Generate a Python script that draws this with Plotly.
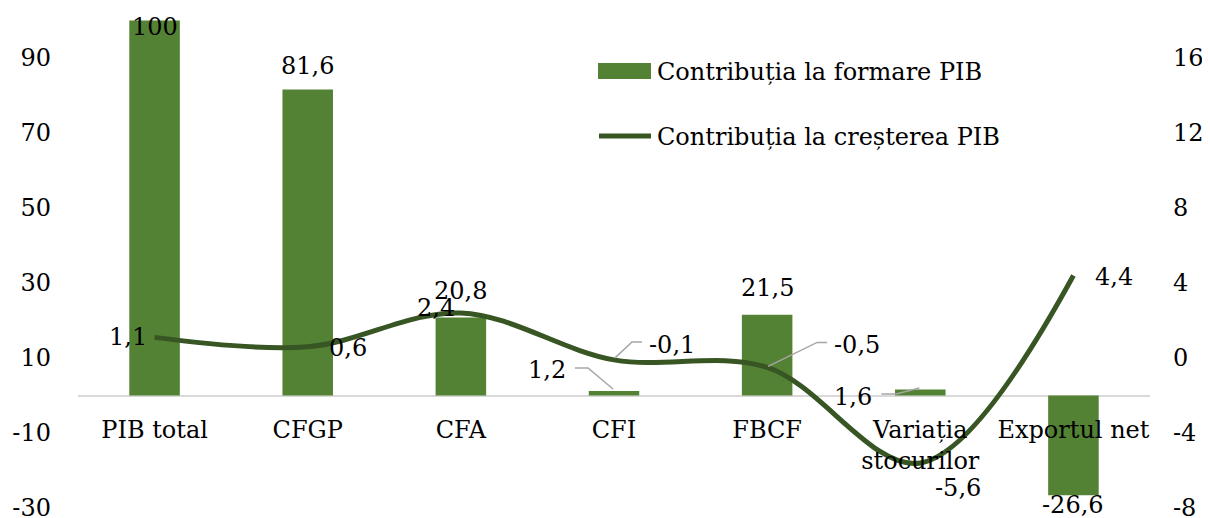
import plotly.graph_objects as go

# ---------------- data ----------------
categories = ["PIB total", "CFGP", "CFA", "CFI", "FBCF", "Variația<br>stocurilor", "Exportul net"]
formare = [100, 81.6, 20.8, 1.2, 21.5, 1.6, -26.6]          # left axis (bars)
crestere = [1.1, 0.6, 2.4, -0.1, -0.5, -5.6, 4.4]           # right axis (line)
left_ticks = [-30, -10, 10, 30, 50, 70, 90]
right_ticks = [-8, -4, 0, 4, 8, 12, 16]
series_names = ["Contribuția la formare PIB", "Contribuția la creșterea PIB"]

# ---------------- style ----------------
BODY = 8                      # default page body margin of the html page
VW, VH = 1210, 518            # browser viewport
W, H = VW - BODY, VH - BODY   # figure fits inside the viewport
PL, PR, PT, PB = 78, 1150, 10, 508   # plot area in page pixels
ML, MR, MT, MB = PL - BODY, VW - PR, PT - BODY, VH - PB
FONT = "DejaVu Serif"
FS = 24
BAR_COLOR = "#548235"
LINE_COLOR = "#375623"
LEADER_COLOR = "#a6a6a6"
LEFT_RANGE = [-30, 102.8]
RIGHT_RANGE = [-8, 18.56]

# label offsets (xshift, yshift) in pixels
bar_label_off = [(0, -6), (0, 24), (0, 27), (-67, 21), (0, 27), (-67, -7), (0, -10)]
line_label_off = [(-27, 0), (40, -1), (-25, 5), (58, 15), (90, 22), (38, -25), (41, -1)]
# leader lines: (series, index, path in pixels relative to point)
leaders = [
    ("bar", 3, "M-1,2 L-26,23 L-39,23"),
    ("bar", 5, "M-1,1.5 L-24,-4.5 L-39,-4.5"),
    ("line", 3, "M1,2 L18,18 L28,18"),
    ("line", 4, "M1,1 L50,25 L60,25"),
]

pw, ph = PR - PL, PB - PT


def px(x):
    return (x - PL) / pw


def py(y):
    return (PB - y) / ph


def fmt(v):
    return f"{v:g}".replace(".", ",")


fig = go.Figure()
fig.add_trace(go.Bar(x=categories, y=formare, name=series_names[0],
                     marker=dict(color=BAR_COLOR, line=dict(width=0)),
                     width=0.33, yaxis="y", hoverinfo="skip"))
fig.add_trace(go.Scatter(x=categories, y=crestere, name=series_names[1], mode="lines",
                         line=dict(color=LINE_COLOR, width=5, shape="spline", smoothing=1.0),
                         yaxis="y2", hoverinfo="skip"))

annotations = []
for c, v, (dx, dy) in zip(categories, formare, bar_label_off):
    annotations.append(dict(x=c, y=v, xref="x", yref="y", text=fmt(v), showarrow=False,
                            xanchor="center", yanchor="middle", xshift=dx, yshift=dy,
                            font=dict(family=FONT, size=FS, color="black")))
for c, v, (dx, dy) in zip(categories, crestere, line_label_off):
    annotations.append(dict(x=c, y=v, xref="x", yref="y2", text=fmt(v), showarrow=False,
                            xanchor="center", yanchor="middle", xshift=dx, yshift=dy,
                            font=dict(family=FONT, size=FS, color="black")))

# custom legend
annotations.append(dict(x=px(655), y=py(72), xref="paper", yref="paper", text=series_names[0],
                        showarrow=False, xanchor="left", yanchor="middle",
                        font=dict(family=FONT, size=FS, color="black")))
annotations.append(dict(x=px(655), y=py(137), xref="paper", yref="paper", text=series_names[1],
                        showarrow=False, xanchor="left", yanchor="middle",
                        font=dict(family=FONT, size=FS, color="black")))

shapes = [
    dict(type="rect", xref="paper", yref="paper", x0=px(598), x1=px(651), y0=py(79), y1=py(63),
         fillcolor=BAR_COLOR, line=dict(width=0)),
    dict(type="line", xref="paper", yref="paper", x0=px(599), x1=px(651), y0=py(136), y1=py(136),
         line=dict(color=LINE_COLOR, width=5)),
]
for kind, i, path in leaders:
    if kind == "bar":
        yref, yv = "y", formare[i]
    else:
        yref, yv = "y2", crestere[i]
    shapes.append(dict(type="path", xref="x", yref=yref, xsizemode="pixel", ysizemode="pixel",
                       xanchor=categories[i], yanchor=yv, path=path,
                       line=dict(color=LEADER_COLOR, width=1.5), layer="above"))

zero_pos = (0 - LEFT_RANGE[0]) / (LEFT_RANGE[1] - LEFT_RANGE[0])

fig.update_layout(
    width=W, height=H,
    margin=dict(l=ML, r=MR, t=MT, b=MB, pad=0, autoexpand=False),
    paper_bgcolor="white", plot_bgcolor="white",
    showlegend=False,
    font=dict(family=FONT, size=FS, color="black"),
    xaxis=dict(type="category", anchor="free", position=zero_pos, showline=False,
               showgrid=False, ticks="", ticklabelstandoff=17, automargin=False,
               tickfont=dict(family=FONT, size=FS, color="black")),
    yaxis=dict(range=LEFT_RANGE, tickvals=left_ticks, ticktext=[str(t) for t in left_ticks],
               showgrid=False, zeroline=True, zerolinecolor="#d9d9d9", zerolinewidth=1.5,
               showline=False, ticks="", ticklabelstandoff=26, ticklabeloverflow="allow",
               automargin=False,
               tickfont=dict(family=FONT, size=FS, color="black")),
    yaxis2=dict(range=RIGHT_RANGE, tickvals=right_ticks, ticktext=[str(t) for t in right_ticks],
                overlaying="y", side="right", showgrid=False, zeroline=False, showline=False,
                ticks="", ticklabelstandoff=22, ticklabeloverflow="allow", automargin=False,
                tickfont=dict(family=FONT, size=FS, color="black")),
    annotations=annotations,
    shapes=shapes,
)

fig.write_html("out.html")
